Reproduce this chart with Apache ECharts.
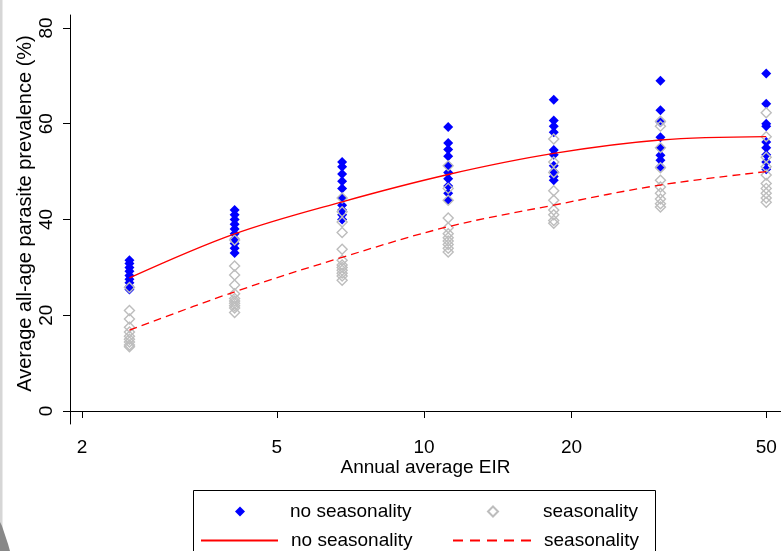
<!DOCTYPE html>
<html>
<head>
<meta charset="utf-8">
<script src="https://cdn.jsdelivr.net/npm/echarts@6/dist/echarts.min.js"></script>
<style>html,body{margin:0;padding:0;background:#fff;}#c{width:781px;height:551px;}</style>
</head>
<body>
<div id="c"></div>
<script>
// EIR values (x categories on log axis)
var eir = [2.5, 4.1, 6.8, 11.2, 18.4, 30.4, 50];
// simulated prevalence, no seasonality (blue filled diamonds)
var noSeasPts = [
  [31.5, 30.8, 30.0, 29.2, 28.3, 27.5, 26.8, 26.0, 25.4],
  [42.0, 41.0, 40.0, 39.0, 38.0, 37.0, 36.0, 35.0, 34.0, 33.0],
  [52.0, 51.0, 49.5, 48.0, 46.5, 44.5, 43.0, 42.0, 41.0, 40.0],
  [59.3, 56.0, 54.6, 53.2, 51.3, 49.8, 48.5, 47.0, 45.5, 44.0],
  [65.0, 60.7, 59.5, 58.2, 54.5, 53.5, 51.2, 50.0, 49.0, 48.2],
  [69.0, 62.8, 60.3, 57.2, 55.0, 53.4, 52.4, 51.0],
  [70.5, 64.2, 60.0, 59.5, 56.2, 55.0, 53.5, 52.0, 50.5]
];
// simulated prevalence, seasonality (grey hollow diamonds)
var seasPts = [
  [25.8, 21.0, 19.2, 17.5, 16.5, 15.6, 15.0, 14.4, 13.8, 13.4],
  [35.7, 30.3, 28.4, 26.3, 24.5, 23.5, 23.0, 22.5, 22.0, 21.5, 20.6],
  [44.5, 41.6, 39.5, 37.3, 33.8, 31.5, 30.5, 30.0, 29.4, 28.8, 28.2, 27.3],
  [51.2, 46.5, 44.0, 40.3, 38.3, 37.0, 36.2, 35.5, 34.8, 34.0, 33.2],
  [56.8, 52.0, 49.8, 46.0, 44.0, 42.0, 41.0, 39.8, 39.2],
  [60.5, 59.5, 55.0, 50.8, 48.2, 46.8, 45.5, 44.3, 43.3, 42.6],
  [62.3, 57.3, 53.0, 51.0, 49.3, 47.5, 46.5, 45.5, 44.5, 43.6]
];
// fitted curves
var noSeasFit = [27.8, 37.0, 43.7, 49.4, 53.8, 56.6, 57.3];
var seasFit = [16.9, 24.9, 32.1, 38.5, 43.0, 47.2, 50.0];
// tick labels
var xTicks = [2, 5, 10, 20, 50];
var yTicks = [0, 20, 40, 60, 80];
var labels = ['no seasonality', 'seasonality'];

function pts(groups) {
  var out = [];
  groups.forEach(function (g, i) { g.forEach(function (v) { out.push([eir[i], v]); }); });
  return out;
}
function line(vals) { return vals.map(function (v, i) { return [eir[i], v]; }); }

var FONT = '"Liberation Sans", Arial, sans-serif';
var FS = 19;
var chart = echarts.init(document.getElementById('c'), null, { renderer: 'canvas' });
function lt(pad) { return { fontFamily: FONT, fontSize: FS, color: '#000', padding: [0, 0, 0, pad] }; }
var hideSym = { color: 'rgba(0,0,0,0)', borderWidth: 0, opacity: 0 };
chart.setOption({
  animation: false,
  backgroundColor: '#fff',
  grid: { left: 70, top: 15, right: -1, bottom: 127, containLabel: false },
  xAxis: {
    type: 'log', logBase: 10, min: 1.89, max: 53.6,
    name: 'Annual average EIR', nameLocation: 'middle', nameGap: 34, nameMoveOverlap: false,
    nameTextStyle: { fontFamily: FONT, fontSize: FS, color: '#000' },
    axisLine: { show: true, lineStyle: { color: '#000', width: 1 } },
    axisTick: { show: true, length: 7, lineStyle: { color: '#000' }, customValues: xTicks },
    axisLabel: { customValues: xTicks, margin: 14, fontFamily: FONT, fontSize: FS, color: '#000' },
    splitLine: { show: false }, minorTick: { show: false }
  },
  yAxis: {
    type: 'value', min: -2.71, max: 82.71,
    name: 'Average all-age parasite prevalence (%)', nameLocation: 'middle', nameGap: 35, nameMoveOverlap: false,
    nameTextStyle: { fontFamily: FONT, fontSize: 20, color: '#000', padding: [0, 0, 0, 12] },
    axisLine: { show: true, lineStyle: { color: '#000', width: 1 } },
    axisTick: { show: true, length: 7, lineStyle: { color: '#000' }, customValues: yTicks },
    axisLabel: { customValues: yTicks, rotate: 90, margin: 14, fontFamily: FONT, fontSize: FS, color: '#000' },
    splitLine: { show: false }
  },
  legend: [
    { data: [labels[0]], left: 235, top: 502, padding: 0, itemWidth: 10, itemHeight: 10, textStyle: lt(40), selectedMode: false },
    { data: [labels[1]], left: 487, top: 502, padding: 0, itemWidth: 10, itemHeight: 10, textStyle: lt(40), selectedMode: false },
    { data: [labels[0] + ' '], left: 200, top: 531, padding: 0, itemWidth: 77, itemHeight: 14, textStyle: lt(8), itemStyle: hideSym, selectedMode: false },
    { data: [labels[1] + ' '], left: 452, top: 531, padding: 0, itemWidth: 78, itemHeight: 14, textStyle: lt(8), itemStyle: hideSym, lineStyle: { type: [10, 7] }, selectedMode: false }
  ],
  series: [
    { name: labels[0], type: 'scatter', data: pts(noSeasPts), symbol: 'diamond', symbolSize: 10,
      itemStyle: { color: '#0000ff', opacity: 1 } },
    { name: labels[1], type: 'scatter', data: pts(seasPts), symbol: 'diamond', symbolSize: 10,
      itemStyle: { color: 'rgba(0,0,0,0)', borderColor: '#bdbdbd', borderWidth: 1.4, opacity: 1 } },
    { name: labels[0] + ' ', type: 'line', data: line(noSeasFit), smooth: 0.35, symbol: 'none', showSymbol: false,
      lineStyle: { color: '#ff0000', width: 1.3, type: 'solid' }, itemStyle: { color: '#ff0000' } },
    { name: labels[1] + ' ', type: 'line', data: line(seasFit), smooth: 0.35, symbol: 'none', showSymbol: false,
      lineStyle: { color: '#ff0000', width: 1.3, type: [8, 5] }, itemStyle: { color: '#ff0000' } }
  ],
  graphic: [
    { type: 'rect', shape: { x: 193.5, y: 490.5, width: 462, height: 80 }, style: { fill: 'none', stroke: '#000', lineWidth: 1 }, silent: true },
    { type: 'rect', shape: { x: 0, y: 0, width: 2.5, height: 551 }, style: { fill: '#d6d6d6' }, silent: true },
    { type: 'polygon', shape: { points: [[0, 522], [2, 526], [5, 535], [8, 544], [10, 551], [0, 551]] }, style: { fill: '#888' }, silent: true }
  ]
});
</script>
</body>
</html>
